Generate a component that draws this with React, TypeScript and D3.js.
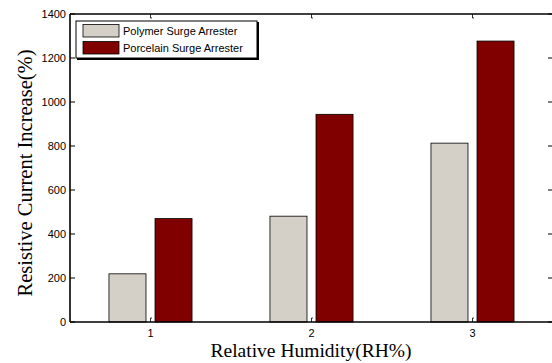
import * as d3 from 'd3'

const groups = [1, 2, 3]
const seriesNames = ['Polymer Surge Arrester', 'Porcelain Surge Arrester']
const seriesColors = ['#d4d0c8', '#800000']
const polymer = [219, 481, 813]
const porcelain = [470, 944, 1277]
const yTicks = [0, 200, 400, 600, 800, 1000, 1200, 1400]

const W = 552
const H = 363
const margin = { left: 70, right: -1, top: 14, bottom: 41 }

export default function App() {
  const x = d3
    .scaleLinear()
    .domain([0.5, 3.5])
    .range([margin.left, W - margin.right])
  const y = d3
    .scaleLinear()
    .domain([0, 1400])
    .range([H - margin.bottom, margin.top])

  const unit = x(1) - x(0)
  const barW = 0.23 * unit
  const offset = 0.143 * unit
  const series = [polymer, porcelain]

  return (
    <svg
      width={W}
      height={H}
      style={{ position: 'absolute', left: 0, top: 0, background: '#fff' }}
      fontFamily="Liberation Sans, Arial, sans-serif"
    >
      {series.map((vals, si) =>
        vals.map((v, i) => {
          const cx = x(groups[i]) + (si === 0 ? -offset : offset)
          return (
            <rect
              key={`${si}-${i}`}
              x={cx - barW / 2}
              y={y(v)}
              width={barW}
              height={y(0) - y(v)}
              fill={seriesColors[si]}
              stroke="#000"
              strokeWidth={0.8}
            />
          )
        })
      )}
      {/* axes frame */}
      <line x1={margin.left} x2={W} y1={y(0)} y2={y(0)} stroke="#000" strokeWidth={1.6} />
      <line x1={margin.left} x2={W} y1={y(1400)} y2={y(1400)} stroke="#000" strokeWidth={1.4} />
      <line x1={margin.left} x2={margin.left} y1={y(0)} y2={y(1400)} stroke="#000" strokeWidth={1.6} />
      {yTicks.map(t => (
        <g key={t}>
          <line x1={margin.left} x2={margin.left + 5} y1={y(t)} y2={y(t)} stroke="#000" strokeWidth={1} />
          <line x1={W - 4} x2={W} y1={y(t)} y2={y(t)} stroke="#000" strokeWidth={1} />
          <text x={margin.left - 4} y={y(t)} dy="0.35em" textAnchor="end" fontSize={11} fill="#000">
            {t}
          </text>
        </g>
      ))}
      {groups.map(g => (
        <g key={g}>
          <path
            d={`M${x(g)},${y(0)} v-4 h1.5`}
            fill="none"
            stroke="#000"
            strokeWidth={0.8}
          />
          <path
            d={`M${x(g)},${y(1400)} v4 h1.5`}
            fill="none"
            stroke="#000"
            strokeWidth={0.8}
          />
          <text x={x(g)} y={y(0) + 15} textAnchor="middle" fontSize={11} fill="#000">
            {g}
          </text>
        </g>
      ))}
      {/* legend */}
      <rect x={77} y={22} width={182} height={38} fill="#000" />
      <rect x={76} y={21} width={181} height={37} fill="#fff" stroke="#000" strokeWidth={1} />
      {seriesNames.map((n, i) => (
        <g key={n}>
          <rect
            x={83}
            y={24.5 + i * 17}
            width={36}
            height={12.5}
            fill={seriesColors[i]}
            stroke="#000"
            strokeWidth={0.8}
          />
          <text x={123} y={31 + i * 17} dy="0.35em" fontSize={11} fill="#000">
            {n}
          </text>
        </g>
      ))}
      <text
        x={311}
        y={357}
        textAnchor="middle"
        fontSize={19.5}
        fontFamily="Liberation Serif, Times New Roman, serif"
        fill="#000"
      >
        Relative Humidity(RH%)
      </text>
      <text
        transform="translate(32, 173) rotate(-90)"
        textAnchor="middle"
        fontSize={20.5}
        fontFamily="Liberation Serif, Times New Roman, serif"
        fill="#000"
      >
        Resistive Current Increase(%)
      </text>
    </svg>
  )
}
